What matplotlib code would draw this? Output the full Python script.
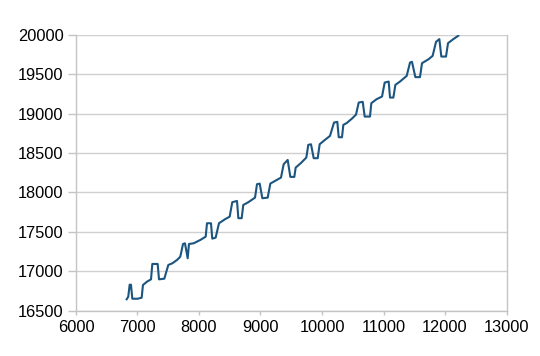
import matplotlib
matplotlib.use("Agg")
import matplotlib.pyplot as plt

# Values
x_vals = [6824, 6850, 6873, 6894, 6916, 7003, 7068, 7089, 7154, 7220,
          7241, 7328, 7350, 7436, 7501, 7566, 7642, 7696, 7740, 7772,
          7816, 7837, 7913, 8021, 8109, 8130, 8195, 8216, 8271, 8325,
          8423, 8499, 8541, 8618, 8640, 8694, 8720, 8802, 8911, 8943,
          8987, 9030, 9117, 9160, 9236, 9333, 9377, 9442, 9485, 9550,
          9572, 9659, 9745, 9777, 9821, 9865, 9930, 9962, 10033, 10130,
          10195, 10249, 10272, 10325, 10347, 10402, 10488, 10553, 10597, 10662,
          10694, 10780, 10802, 10889, 10976, 11019, 11084, 11106, 11160, 11193,
          11268, 11377, 11431, 11463, 11518, 11593, 11626, 11734, 11799, 11854,
          11908, 11940, 12016, 12049, 12135, 12216]
y_vals = [16645, 16678, 16830, 16830, 16652, 16652, 16665, 16826, 16868, 16898,
          17093, 17093, 16898, 16906, 17080, 17101, 17143, 17185, 17346, 17355,
          17165, 17346, 17355, 17397, 17439, 17609, 17609, 17414, 17427, 17609,
          17660, 17693, 17876, 17892, 17673, 17673, 17841, 17876, 17934, 18104,
          18112, 17926, 17934, 18112, 18146, 18188, 18358, 18412, 18197, 18197,
          18315, 18374, 18442, 18603, 18611, 18434, 18434, 18611, 18657, 18717,
          18886, 18895, 18700, 18700, 18857, 18880, 18937, 18987, 19140, 19149,
          18962, 18962, 19132, 19183, 19216, 19393, 19406, 19203, 19203, 19364,
          19406, 19478, 19647, 19656, 19462, 19462, 19639, 19690, 19732, 19910,
          19944, 19723, 19723, 19893, 19944, 19987]

x_ticks = [6000, 7000, 8000, 9000, 10000, 11000, 12000, 13000]
y_ticks = [16500, 17000, 17500, 18000, 18500, 19000, 19500, 20000]

plt.rcParams['font.family'] = ['Liberation Sans', 'DejaVu Sans']

fig = plt.figure(figsize=(5.4, 3.56), dpi=100)
ax = fig.add_axes([0.1407, 0.1272, 0.7973, 0.7753])

ax.plot(x_vals, y_vals, color="#1b5580", linewidth=1.5,
        solid_joinstyle="round")

ax.set_xlim(6000, 13000)
ax.set_ylim(16500, 20000)
ax.set_xticks(x_ticks)
ax.set_yticks(y_ticks)

grey = "#c4c4c4"
ax.yaxis.grid(True, color="#d0d0d0", linewidth=1.0)
ax.set_axisbelow(True)
ax.spines["top"].set_visible(False)
for side in ("left", "right", "bottom"):
    ax.spines[side].set_color(grey)
    ax.spines[side].set_linewidth(1.0)

ax.tick_params(axis="y", length=6, width=1.0, color=grey, pad=3,
               labelsize=11.8, labelcolor="black")
ax.tick_params(axis="x", length=3, width=1.0, color=grey, pad=4,
               labelsize=11.8, labelcolor="black")

fig.savefig("out.png", dpi=100)
